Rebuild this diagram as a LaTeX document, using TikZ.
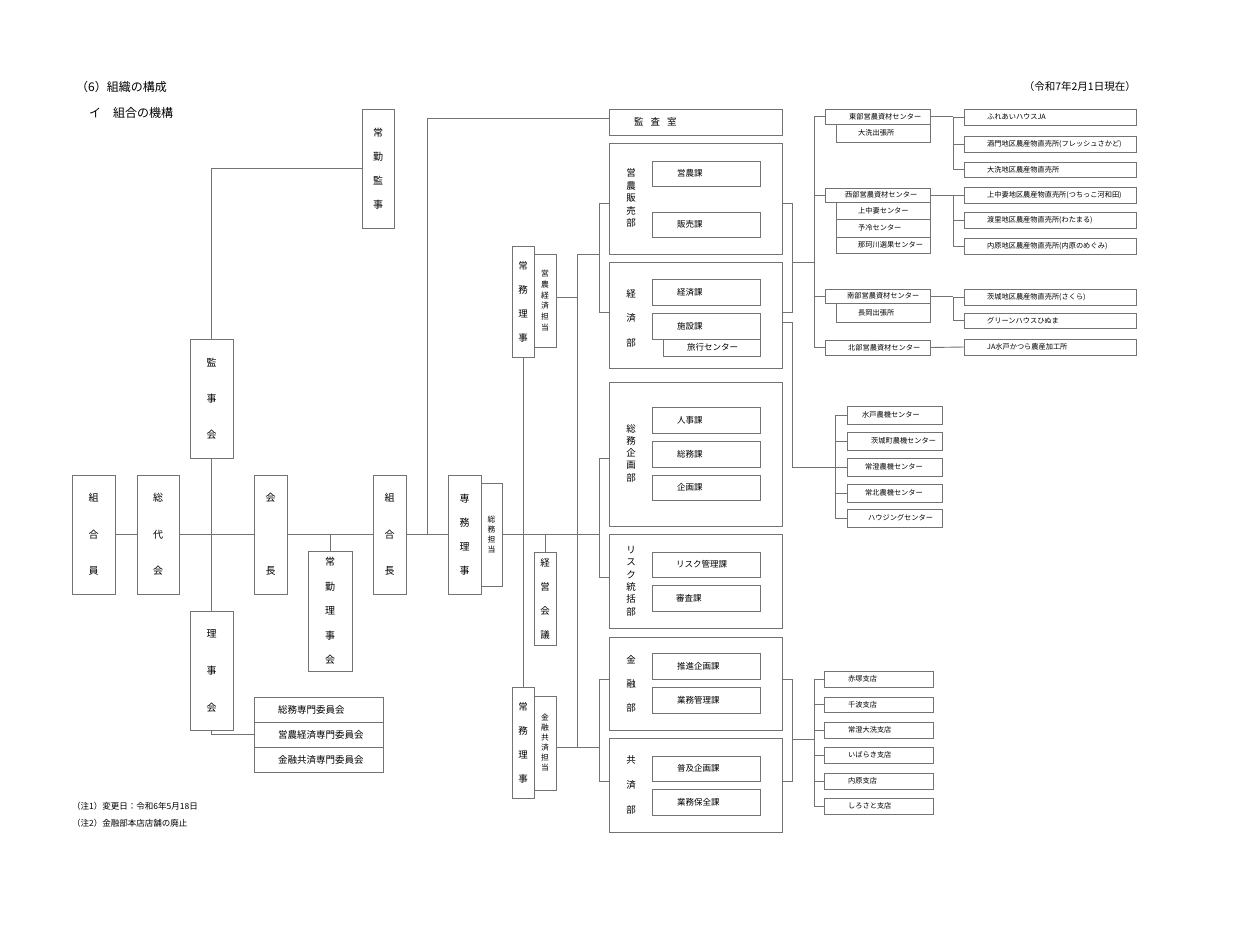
\documentclass[tikz,border=0pt]{standalone}
\usepackage{fontspec}
\setmainfont{Noto Sans CJK JP}
\definecolor{lc}{gray}{0.45}
\newcommand\bx[5]{\node[bx,minimum width={#4-#2},minimum height={#5-#3}] (#1) at ({(#2+#4)/2},{(#3+#5)/2}) {};}
\newcommand\bt[8]{\bx{#1}{#2}{#3}{#4}{#5}\node[#7] (#1-t) at (#6,{(#3+#5)/2}) {#8};}
\tikzset{
 bx/.style={draw=lc, line width=0.9pt, inner sep=0pt, outer sep=0pt},
 ln/.style={draw=lc, line width=0.9pt},
 vt/.style={align=center, inner sep=0pt, font=\fontsize{10}{#1}\selectfont},
 vs/.style={align=center, inner sep=0pt, font=\fontsize{9.5}{#1}\selectfont},
 vm/.style={align=center, inner sep=0pt, font=\fontsize{7.8}{#1}\selectfont},
 ht/.style={anchor=west, inner sep=0pt, font=\fontsize{8.5}{10}\selectfont},
 hs/.style={anchor=west, inner sep=0pt, font=\fontsize{7.2}{9}\selectfont},
 hc/.style={anchor=west, inner sep=0pt, font=\fontsize{9.5}{11}\selectfont},
}
\begin{document}
\begin{tikzpicture}[x=1pt,y=-1pt]
\fill[white] (0,0) rectangle (1240,924);
\useasboundingbox (0,0) rectangle (1240,924);
% titles
\node[anchor=west,inner sep=0pt,font=\fontsize{12}{14}\selectfont] (title) at (76,87) {（6）組織の構成};
\node[anchor=west,inner sep=0pt,font=\fontsize{12}{14}\selectfont] (subtitle) at (89,113) {イ　組合の機構};
\node[anchor=east,inner sep=0pt,font=\fontsize{10.5}{13}\selectfont] (date) at (1136,87) {（令和7年2月1日現在）};
\node[anchor=west,inner sep=0pt,font=\fontsize{8.5}{10}\selectfont] (note1) at (72,806) {（注1）変更日：令和6年5月18日};
\node[anchor=west,inner sep=0pt,font=\fontsize{8.5}{10}\selectfont] (note2) at (72,823) {（注2）金融部本店店舗の廃止};
% left boxes
\bx{kumiaiin}{72}{475}{115}{594}\node[vt=36.5] (kumiaiin-t) at (kumiaiin) {組\\合\\員};
\bx{soudai}{137}{475}{179}{594}\node[vt=36.5] (soudai-t) at (soudai) {総\\代\\会};
\bx{kanjikai}{190}{339}{233}{458}\node[vt=36] (kanjikai-t) at (kanjikai) {監\\事\\会};
\bx{rijikai}{190}{611}{233}{730}\node[vt=37] (rijikai-t) at (rijikai) {理\\事\\会};
\bx{kaichou}{254}{475}{287}{594}\node[vt=73] (kaichou-t) at (kaichou) {会\\長};
\bx{jrk}{308}{551}{352}{671}\node[vt=24.5] (jrk-t) at (jrk) {常\\勤\\理\\事\\会};
\bx{kumiaichou}{373}{475}{406}{594}\node[vt=36.5] (kumiaichou-t) at (kumiaichou) {組\\合\\長};
\bx{senmu}{448}{475}{481}{594}\node[vt=24] (senmu-t) at (senmu) {専\\務\\理\\事};
\bx{sentan}{481}{483}{502}{586}\node[vm=9.7] (sentan-t) at (sentan) {総\\務\\担\\当};
\bx{jkk}{362}{109}{394}{228}\node[vt=24] (jkk-t) at (jkk) {常\\勤\\監\\事};
\bt{iin1}{254}{697}{383}{722}{278}{hc}{総務専門委員会}
\bt{iin2}{254}{722}{383}{747}{278}{hc}{営農経済専門委員会}
\bt{iin3}{254}{747}{383}{772}{278}{hc}{金融共済専門委員会}
% center
\bt{kansa}{609}{109}{782}{135}{634}{hc}{監\hspace{7pt}査\hspace{7pt}室}
\bx{jm1}{512}{246}{534}{357}\node[vs=24] (jm1-t) at (jm1) {常\\務\\理\\事};
\bx{eitan}{534}{254}{556}{347}\node[vm=10.8] (eitan-t) at (eitan) {営\\農\\経\\済\\担\\当};
\bx{keiei}{534}{552}{556}{645}\node[vs=24] (keiei-t) at (keiei) {経\\営\\会\\議};
\bx{jm2}{512}{687}{534}{798}\node[vs=24] (jm2-t) at (jm2) {常\\務\\理\\事};
\bx{kintan}{534}{696}{556}{790}\node[vm=10] (kintan-t) at (kintan) {金\\融\\共\\済\\担\\当};
% departments
\bx{eihan}{609}{143}{782}{254}\node[vs=12.5] (eihan-t) at (631,198) {営\\農\\販\\売\\部};
\bt{eino}{652}{161}{760}{186}{677}{ht}{営農課}
\bt{hanbai}{652}{212}{760}{237}{677}{ht}{販売課}
\bx{keizai}{609}{262}{782}{368}\node[vs=24.5] (keizai-t) at (631,318) {経\\済\\部};
\bt{keizaika}{652}{279}{760}{305}{677}{ht}{経済課}
\bt{shisetsu}{652}{313}{760}{339}{677}{ht}{施設課}
\bt{ryokou}{663}{339}{760}{356}{687}{ht}{旅行センター}
\bx{smk}{609}{382}{782}{526}\node[vs=12.3] (smk-t) at (631,453) {総\\務\\企\\画\\部};
\bt{jinji}{652}{407}{760}{433}{677}{ht}{人事課}
\bt{soumu}{652}{441}{760}{467}{677}{ht}{総務課}
\bt{kikaku}{652}{475}{760}{500}{677}{ht}{企画課}
\bx{risk}{609}{534}{782}{628}\node[vs=12.4] (risk-t) at (631,581) {リ\\ス\\ク\\統\\括\\部};
\bt{riskka}{652}{552}{760}{577}{676}{ht}{リスク管理課}
\bt{shinsa}{652}{585}{760}{611}{676}{ht}{審査課}
\bx{kinyu}{609}{637}{782}{730}\node[vs=24] (kinyu-t) at (631,684) {金\\融\\部};
\bt{suishin}{652}{653}{760}{679}{677}{ht}{推進企画課}
\bt{gkanri}{652}{687}{760}{713}{677}{ht}{業務管理課}
\bx{kyosai}{609}{738}{782}{832}\node[vs=25] (kyosai-t) at (631,785) {共\\済\\部};
\bt{fukyu}{652}{756}{760}{781}{677}{ht}{普及企画課}
\bt{gzen}{652}{789}{760}{815}{677}{ht}{業務保全課}
% right centers
\bt{east}{825}{109}{930}{124}{849}{hs}{東部営農資材センター}
\bt{oarai}{836}{124}{930}{142}{858}{hs}{大洗出張所}
\bt{west}{825}{188}{930}{202}{845}{hs}{西部営農資材センター}
\bt{kaminaka}{836}{202}{930}{219}{858}{hs}{上中妻センター}
\bt{yorei}{836}{219}{930}{237}{858}{hs}{予冷センター}
\bt{naka}{836}{237}{930}{253}{858}{hs}{那珂川選果センター}
\bt{south}{825}{289}{930}{303}{847}{hs}{南部営農資材センター}
\bt{nagaoka}{836}{303}{930}{322}{858}{hs}{長岡出張所}
\bt{north}{825}{340}{930}{355}{848}{hs}{北部営農資材センター}
\bt{rr1}{964}{109}{1136}{125}{987}{hs}{ふれあいハウスJA}
\bt{rr2}{964}{136}{1136}{152}{987}{hs}{酒門地区農産物直売所(フレッシュさかど)}
\bt{rr3}{964}{162}{1136}{177}{987}{hs}{大洗地区農産物直売所}
\bt{rr4}{964}{187}{1136}{203}{987}{hs}{上中妻地区農産物直売所(つちっこ河和田)}
\bt{rr5}{964}{212}{1136}{228}{987}{hs}{渡里地区農産物直売所(わたまる)}
\bt{rr6}{964}{238}{1136}{254}{987}{hs}{内原地区農産物直売所(内原のめぐみ)}
\bt{rr7}{964}{289}{1136}{305}{987}{hs}{茨城地区農産物直売所(さくら)}
\bt{rr8}{964}{313}{1136}{328}{987}{hs}{グリーンハウスひぬま}
\bt{rr9}{964}{339}{1136}{355}{987}{hs}{JA水戸かつら農産加工所}
\bt{nk1}{847}{406}{942}{424}{862}{hs}{水戸農機センター}
\bt{nk2}{847}{432}{942}{450}{871}{hs}{茨城町農機センター}
\bt{nk3}{847}{458}{942}{476}{865}{hs}{常澄農機センター}
\bt{nk4}{847}{484}{942}{502}{865}{hs}{常北農機センター}
\bt{nk5}{847}{509}{942}{527}{868}{hs}{ハウジングセンター}
\bt{br1}{824}{671}{933}{687}{848}{hs}{赤塚支店}
\bt{br2}{824}{697}{933}{712}{848}{hs}{千波支店}
\bt{br3}{824}{722}{933}{738}{848}{hs}{常澄大洗支店}
\bt{br4}{824}{747}{933}{763}{848}{hs}{いばらき支店}
\bt{br5}{824}{773}{933}{789}{848}{hs}{内原支店}
\bt{br6}{824}{798}{933}{814}{848}{hs}{しろさと支店}
% ---- connectors ----
\coordinate (m330) at (330,534.5);
\coordinate (m427) at (427,534.5);
\coordinate (k118) at (427,118);
\coordinate (m545) at (545,534.5);
\coordinate (m599) at (599,534.5);
\coordinate (a1) at (577,254);
\coordinate (a2) at (577,297);
\coordinate (a3) at (577,747);
\coordinate (e1) at (599,203);
\coordinate (e2) at (599,312);
\coordinate (b1) at (599,458);
\coordinate (b2) at (599,577);
\coordinate (f1) at (599,679);
\coordinate (f2) at (599,781);
\coordinate (g1) at (792,203);
\coordinate (g2) at (792,312);
\coordinate (g3) at (792,262);
\coordinate (g4) at (792,322);
\coordinate (g5) at (792,467);
\coordinate (v1) at (814,116.5);
\coordinate (v2) at (814,347.5);
\coordinate (n1) at (835,415);
\coordinate (n2) at (835,518);
\coordinate (p1) at (792,679);
\coordinate (p2) at (792,781);
\coordinate (p3) at (792,739);
\coordinate (q1) at (814,679);
\coordinate (q2) at (814,806);
\coordinate (r1) at (953,116.5);
\coordinate (r2) at (953,195);
\coordinate (r3) at (953,296);
% left
\draw[ln] (kumiaiin.east) -- (soudai.west);
\draw[ln] (soudai.east) -- (kaichou.west);
\draw[ln] (kaichou.east) -- (kumiaichou.west);
\draw[ln] (kumiaichou.east) -- (senmu.west);
\draw[ln] (sentan.east) -- (m599);
\draw[ln] (jkk.west) -| (kanjikai.north);
\draw[ln] (kanjikai.south) -- (rijikai.north);
\draw[ln] (rijikai.south) |- (iin2.west);
\draw[ln] (m330) -- (jrk.north);
\draw[ln] (m427) -- (k118) -- (k118 -| kansa.west);
\draw[ln] (m545) -- (keiei.north);
\draw[ln] (jm1.south) -- (jm2.north);
% center brackets
\draw[ln] (eitan.east |- a2) -- (a2);
\draw[ln] (a1) -- (a3);
\draw[ln] (kintan.east |- a3) -- (a3) -- (a3 -| f1);
\draw[ln] (a1) -- (a1 -| e1);
\draw[ln] (e1 -| eihan.west) -- (e1) -- (e2) -- (e2 -| keizai.west);
\draw[ln] (b1 -| smk.west) -- (b1) -- (b2) -- (b2 -| risk.west);
\draw[ln] (f1 -| kinyu.west) -- (f1) -- (f2) -- (f2 -| kyosai.west);
% right of departments
\draw[ln] (g1 -| eihan.east) -- (g1) -- (g2) -- (g2 -| keizai.east);
\draw[ln] (g3) -- (g3 -| v1);
\draw[ln] (v1) -- (v2);
\draw[ln] (v1) -- (east.west);
\draw[ln] (v1 |- west.west) -- (west.west);
\draw[ln] (v1 |- south.west) -- (south.west);
\draw[ln] (v1 |- north.west) -- (north.west);
\draw[ln] (g4 -| keizai.east) -- (g4) -- (g5) -- (g5 -| n1);
\draw[ln] (n1) -- (n2);
\draw[ln] (n1 |- nk1.west) -- (nk1.west);
\draw[ln] (n1 |- nk2.west) -- (nk2.west);
\draw[ln] (n1 |- nk3.west) -- (nk3.west);
\draw[ln] (n1 |- nk4.west) -- (nk4.west);
\draw[ln] (n1 |- nk5.west) -- (nk5.west);
\draw[ln] (p1 -| kinyu.east) -- (p1) -- (p2) -- (p2 -| kyosai.east);
\draw[ln] (p3) -- (p3 -| q1);
\draw[ln] (q1) -- (q2);
\draw[ln] (q1 |- br1.west) -- (br1.west);
\draw[ln] (q1 |- br2.west) -- (br2.west);
\draw[ln] (q1 |- br3.west) -- (br3.west);
\draw[ln] (q1 |- br4.west) -- (br4.west);
\draw[ln] (q1 |- br5.west) -- (br5.west);
\draw[ln] (q1 |- br6.west) -- (br6.west);
% right-right
\draw[ln] (east.east) -- (r1);
\draw[ln] (r1) -- (r1 |- rr3.west);
\draw[ln] (r1 |- rr1.west) -- (rr1.west);
\draw[ln] (r1 |- rr2.west) -- (rr2.west);
\draw[ln] (r1 |- rr3.west) -- (rr3.west);
\draw[ln] (west.east) -- (r2);
\draw[ln] (r2 |- rr4.west) -- (r2 |- rr6.west);
\draw[ln] (r2 |- rr4.west) -- (rr4.west);
\draw[ln] (r2 |- rr5.west) -- (rr5.west);
\draw[ln] (r2 |- rr6.west) -- (rr6.west);
\draw[ln] (south.east) -- (r3);
\draw[ln] (r3 |- rr7.west) -- (r3 |- rr8.west);
\draw[ln] (r3 |- rr7.west) -- (rr7.west);
\draw[ln] (r3 |- rr8.west) -- (rr8.west);
\draw[ln] (north.east) -- (rr9.west);
\end{tikzpicture}
\end{document}
